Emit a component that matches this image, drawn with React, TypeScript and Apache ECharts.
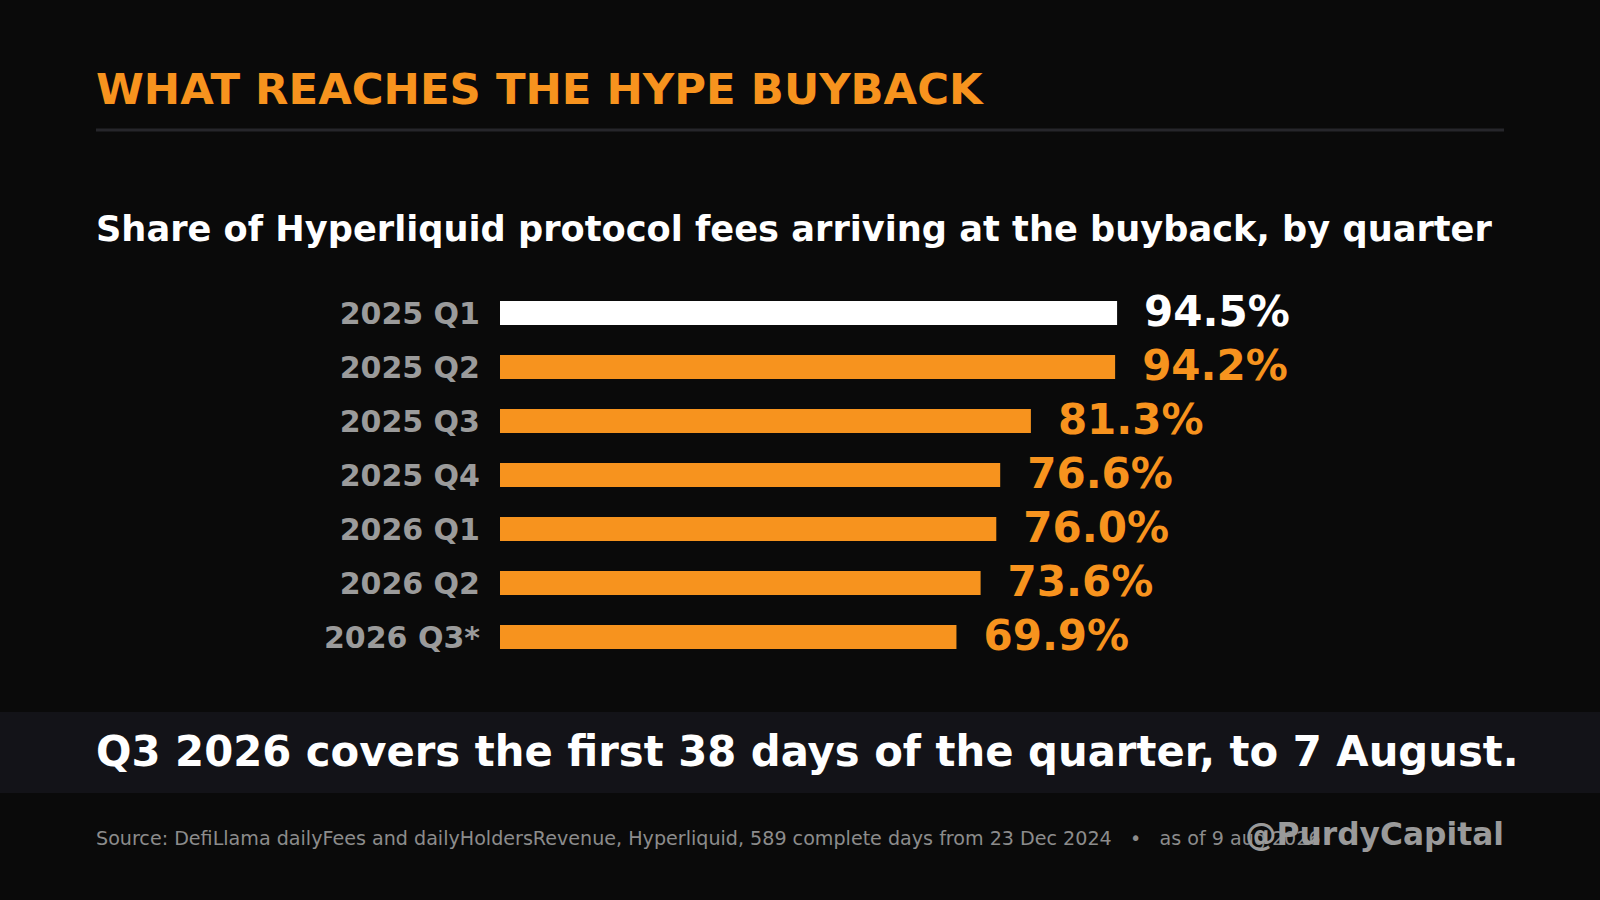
import React, { useEffect, useRef } from "react";
import * as echarts from "echarts";

const categories = ["2025 Q1", "2025 Q2", "2025 Q3", "2025 Q4", "2026 Q1", "2026 Q2", "2026 Q3*"];
const values = [94.5, 94.2, 81.3, 76.6, 76.0, 73.6, 69.9];

const TITLE = "WHAT REACHES THE HYPE BUYBACK";
const SUBTITLE = "Share of Hyperliquid protocol fees arriving at the buyback, by quarter";
const NOTE = "Q3 2026 covers the first 38 days of the quarter, to 7 August.";
const SOURCE = "Source: DefiLlama dailyFees and dailyHoldersRevenue, Hyperliquid, 589 complete days from 23 Dec 2024   \u2022   as of 9 aug 2026";
const HANDLE = "@PurdyCapital";

const ORANGE = "#F7931E";
const FONT = "DejaVu Sans";

export default function App() {
  const ref = useRef<HTMLDivElement>(null);

  useEffect(() => {
    document.body.style.margin = "0";
    document.body.style.background = "#0a0a0a";
    if (!ref.current) return;
    const chart = echarts.init(ref.current, undefined, { renderer: "svg" });

    const data = values.map((v, i) => ({
      value: v,
      itemStyle: { color: i === 0 ? "#ffffff" : ORANGE },
      label: { color: i === 0 ? "#ffffff" : ORANGE },
    }));

    chart.setOption({
      animation: false,
      backgroundColor: "#0a0a0a",
      textStyle: { fontFamily: FONT },
      grid: { left: 500, top: 286, width: 653, height: 378, containLabel: false },
      xAxis: {
        type: "value",
        min: 0,
        max: 100,
        show: false,
        splitLine: { show: false },
      },
      yAxis: {
        type: "category",
        data: categories,
        inverse: true,
        axisLine: { show: false },
        axisTick: { show: false },
        axisLabel: {
          color: "#9b9b9b",
          fontSize: 30,
          fontWeight: "bold",
          fontFamily: FONT,
          margin: 20,
          padding: [0, 0, 2, 0],
        },
      },
      series: [
        {
          type: "bar",
          data,
          barWidth: 24,
          label: {
            show: true,
            position: "right",
            distance: 27,
            offset: [0, -2],
            fontSize: 42,
            fontWeight: "bold",
            fontFamily: FONT,
            formatter: (p: any) => `${Number(p.value).toFixed(1)}%`,
          },
        },
      ],
      graphic: [
        {
          type: "text",
          x: 96,
          y: 89,
          style: {
            text: TITLE,
            fill: ORANGE,
            font: `bold 43.4px "${FONT}"`,
            verticalAlign: "middle",
          },
        },
        {
          type: "line",
          shape: { x1: 96, y1: 130, x2: 1504, y2: 130 },
          style: { stroke: "#26262b", lineWidth: 3 },
        },
        {
          type: "text",
          x: 96,
          y: 228,
          style: {
            text: SUBTITLE,
            fill: "#ffffff",
            font: `bold 35.2px "${FONT}"`,
            verticalAlign: "middle",
          },
        },
        {
          type: "rect",
          shape: { x: 0, y: 712, width: 1600, height: 81 },
          style: { fill: "#131318" },
        },
        {
          type: "text",
          x: 96,
          y: 751,
          style: {
            text: NOTE,
            fill: "#ffffff",
            font: `bold 41.75px "${FONT}"`,
            verticalAlign: "middle",
          },
        },
        {
          type: "text",
          x: 96,
          y: 838,
          style: {
            text: SOURCE,
            fill: "#8c8c8c",
            font: `19.13px "${FONT}"`,
            verticalAlign: "middle",
          },
        },
        {
          type: "text",
          x: 1504,
          y: 834,
          style: {
            text: HANDLE,
            fill: "#9a9a9a",
            font: `bold 31.3px "${FONT}"`,
            align: "right",
            verticalAlign: "middle",
          },
        },
      ],
    });

    return () => chart.dispose();
  }, []);

  return <div ref={ref} style={{ width: 1600, height: 900 }} />;
}
